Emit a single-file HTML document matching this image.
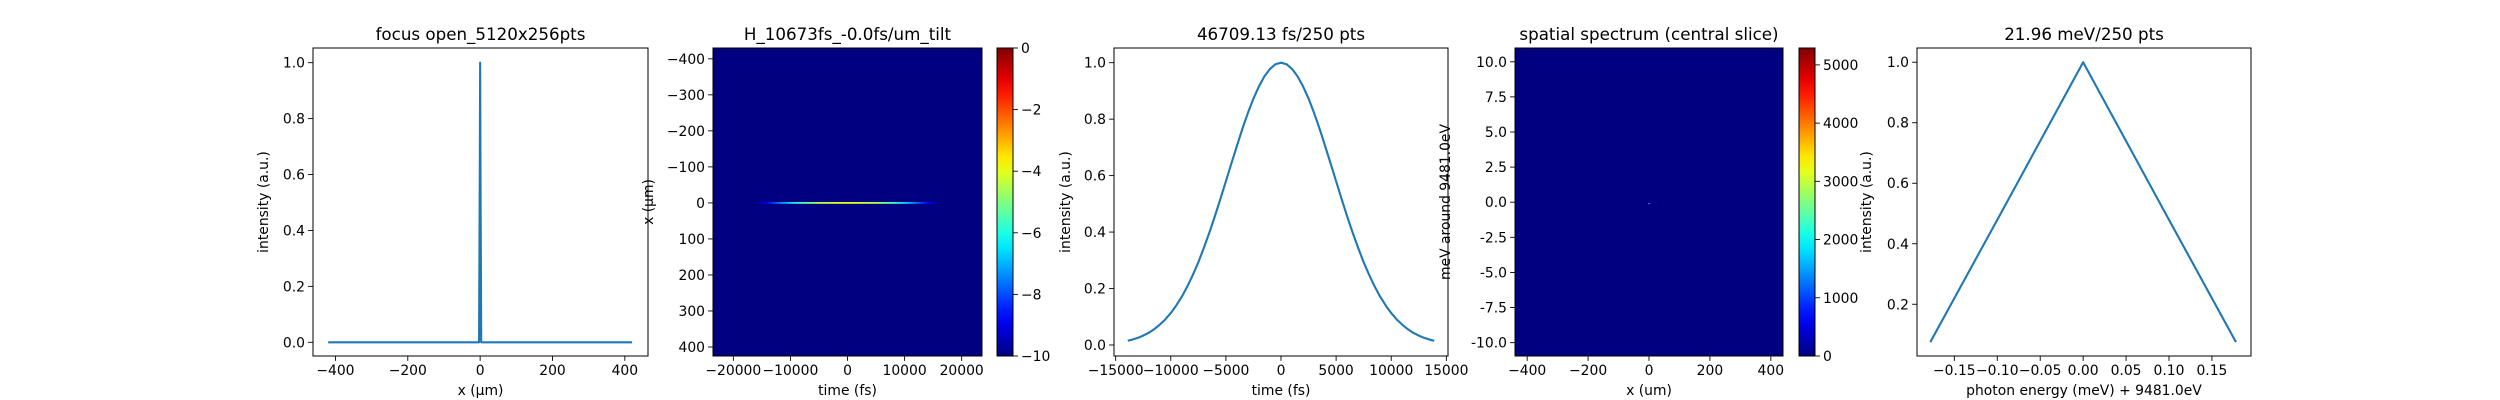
<!DOCTYPE html>
<html><head><meta charset="utf-8">
<style>
html,body{margin:0;padding:0;background:#fff;}
svg{display:block;font-family:"DejaVu Sans","Liberation Sans",sans-serif;}
</style></head>
<body>
<svg id="fig" width="2500" height="400" viewBox="0 0 2500 400" xmlns="http://www.w3.org/2000/svg">
<rect width="2500" height="400" fill="#fff"/>
</svg>
<script>
// ---- data ----
const focusX = [-420, -3, -1, 0, 1, 3, 420];
const focusY = [0, 0, 0.6, 1.0, 0.6, 0, 0];
const timeX = [-13900,-13500,-13000,-12500,-12000,-11500,-11000,-10500,-10000,-9500,-9000,-8500,-8000,-7500,-7000,-6500,-6000,-5500,-5000,-4500,-4000,-3500,-3000,-2500,-2000,-1500,-1000,-500,0,500,1000,1500,2000,2500,3000,3500,4000,4500,5000,5500,6000,6500,7000,7500,8000,8500,9000,9500,10000,10500,11000,11500,12000,12500,13000,13500,13900];
const timeY = [0.015,0.0188,0.025,0.0332,0.043,0.056,0.072,0.0904,0.113,0.140,0.171,0.207,0.248,0.293,0.344,0.398,0.456,0.517,0.580,0.643,0.705,0.766,0.822,0.873,0.916,0.952,0.978,0.9946,1.0,0.9946,0.978,0.952,0.916,0.873,0.822,0.766,0.705,0.643,0.580,0.517,0.456,0.398,0.344,0.293,0.248,0.207,0.171,0.140,0.113,0.0904,0.072,0.056,0.043,0.0332,0.025,0.0188,0.015];
const specX = [-0.178,-0.095,0,0.095,0.178];
const specY = [0.075,0.505,1.0,0.505,0.075];
const stripeT = [-16000,-14000,-12000,-10000,-8000,-6000,-4000,-2000,0,2000,4000,6000,8000,10000,12000,14000,16000];
const stripeV = [-9.8,-8.8,-7.6,-6.6,-5.6,-4.9,-4.4,-4.1,-4.0,-4.1,-4.4,-4.9,-5.6,-6.6,-7.6,-8.8,-9.8];
const p1XTicks = [-400,-200,0,200,400];
const p1YTicks = [0,0.2,0.4,0.6,0.8,1.0];
const p2XTicks = [-20000,-10000,0,10000,20000];
const p2YTicks = [-400,-300,-200,-100,0,100,200,300,400];
const cb2Ticks = [0,-2,-4,-6,-8,-10];
const p3XTicks = [-15000,-10000,-5000,0,5000,10000,15000];
const p4YTicks = [10,7.5,5,2.5,0,-2.5,-5,-7.5,-10];
const p4XTicks = [-400,-200,0,200,400];
const cb4Ticks = [0,1000,2000,3000,4000,5000];
const p5XTicks = [-0.15,-0.10,-0.05,0,0.05,0.10,0.15];
const p5YTicks = [0.2,0.4,0.6,0.8,1.0];

const NS="http://www.w3.org/2000/svg";
const fig=document.getElementById('fig');
function el(tag,attrs,parent,text){const e=document.createElementNS(NS,tag);for(const k in attrs)e.setAttribute(k,attrs[k]);if(text!==undefined)e.textContent=text;(parent||fig).appendChild(e);return e;}
function fmt(v){return String(v).replace('-','\u2212');}
function jet(t){t=Math.max(0,Math.min(1,t));
 const r=Math.max(0,Math.min(1,1.5-Math.abs(4*t-3))),g=Math.max(0,Math.min(1,1.5-Math.abs(4*t-2))),b=Math.max(0,Math.min(1,1.5-Math.abs(4*t-1)));
 return `rgb(${Math.round(r*255)},${Math.round(g*255)},${Math.round(b*255)})`;}
const TOP=48,BOT=356;

function axes(name,L,R,xmin,xmax,ymin,ymax,xt,yt,xfmt,yfmt,title,xlabel,ylabel,ylabX){
 const g=el('g',{},fig);
 
 
 const sx=v=>L+(v-xmin)/(xmax-xmin)*(R-L);
 const sy=v=>BOT-(v-ymin)/(ymax-ymin)*(BOT-TOP);
 const ax={g,sx,sy,L,R};
 ax.frame=()=>{const f=el('rect',{x:L,y:TOP,width:R-L,height:BOT-TOP,fill:'none',stroke:'#000','stroke-width':1},g);
  
  xt.forEach(v=>{const x=sx(v);el('line',{x1:x,x2:x,y1:BOT,y2:BOT+4.9,stroke:'#000','stroke-width':0.9},g);
   const t=el('text',{x:x,y:BOT+19,'font-size':13.9,'text-anchor':'middle',fill:'#000'},g,xfmt(v));
   });
  yt.forEach(v=>{const y=sy(v);el('line',{x1:L-4.9,x2:L,y1:y,y2:y,stroke:'#000','stroke-width':0.9},g);
   const t=el('text',{x:L-8,y:y+5,'font-size':13.9,'text-anchor':'end',fill:'#000'},g,yfmt(v));
   });
  const tt=el('text',{x:(L+R)/2,y:40,'font-size':16.7,'text-anchor':'middle',fill:'#000'},g,title);
  
  const xl=el('text',{x:(L+R)/2,y:395,'font-size':13.9,'text-anchor':'middle',fill:'#000'},g,xlabel);
  
  const yl=el('text',{x:0,y:0,'font-size':13.9,'text-anchor':'middle',fill:'#000',transform:`translate(${ylabX},${(TOP+BOT)/2}) rotate(-90)`},g,ylabel);
  
 };
 ax.line=(xs,ys,lname)=>{const d=xs.map((v,i)=>(i?'L':'M')+sx(v).toFixed(2)+','+sy(ys[i]).toFixed(2)).join('');
  const p=el('path',{d:d,fill:'none',stroke:'#1f77b4','stroke-width':2.1,'stroke-linejoin':'round'},g);
  };
 return ax;
}
function colorbar(name,L,R,vmin,vmax,ticks,tf){
 const g=el('g',{},fig);
 
 
 const id=name+'-grad';
 const defs=el('defs',{},g);const lg=el('linearGradient',{id:id,x1:0,y1:1,x2:0,y2:0},defs);
 for(let i=0;i<=20;i++)el('stop',{offset:i/20,'stop-color':jet(i/20)},lg);
 el('rect',{x:L,y:TOP,width:R-L,height:BOT-TOP,fill:`url(#${id})`,stroke:'#000','stroke-width':1},g);
 const sy=v=>BOT-(v-vmin)/(vmax-vmin)*(BOT-TOP);
 ticks.forEach(v=>{const y=sy(v);el('line',{x1:R,x2:R+4.9,y1:y,y2:y,stroke:'#000','stroke-width':0.9},g);
  const t=el('text',{x:R+8,y:y+5,'font-size':13.9,fill:'#000'},g,tf(v));
  });
}
const fx1=v=>v.toFixed(1), fint=v=>fmt(v), fx2=v=>fmt(v.toFixed(2));

// Panel 1
const a1=axes('focus-panel',313,648,-462,464,-0.049,1.0525,p1XTicks,p1YTicks,fint,fx1,'focus open_5120x256pts','x (\u03bcm)','intensity (a.u.)',268);
a1.line(focusX,focusY,'focus-line');a1.frame();

// Panel 2 heatmap
const a2=axes('tilt-heatmap-panel',713,982,-23560,23560,425,-430,p2XTicks,p2YTicks,fint,fint,'H_10673fs_-0.0fs/um_tilt','time (fs)','x (\u03bcm)',653);
const bg2=el('rect',{x:713,y:TOP,width:269,height:BOT-TOP,fill:jet(0)},a2.g);

{const defs=el('defs',{},a2.g);const lg=el('linearGradient',{id:'stripeg',gradientUnits:'userSpaceOnUse',x1:a2.sx(stripeT[0]),x2:a2.sx(stripeT[stripeT.length-1]),y1:0,y2:0},defs);
 const n=stripeT.length;stripeT.forEach((t,i)=>el('stop',{offset:i/(n-1),'stop-color':jet((stripeV[i]+10)/10)},lg));
 const s=el('rect',{x:a2.sx(stripeT[0]),y:a2.sy(0)-0.9,width:a2.sx(stripeT[n-1])-a2.sx(stripeT[0]),height:1.8,fill:'url(#stripeg)'},a2.g);
 }
a2.frame();
colorbar('tilt-colorbar',997,1013,-10,0,cb2Ticks,fint);

// Panel 3
const a3=axes('time-profile-panel',1114,1448,-15150,15150,-0.039,1.052,p3XTicks,p1YTicks,fint,fx1,'46709.13 fs/250 pts','time (fs)','intensity (a.u.)',1070);
a3.line(timeX,timeY,'time-profile-line');a3.frame();

// Panel 4 heatmap
const a4=axes('spatial-spectrum-panel',1515,1783,-440,440,-10.95,10.98,p4XTicks,p4YTicks,fint,fx1,'spatial spectrum (central slice)','x (um)','meV around 9481.0eV',1450);
const bg4=el('rect',{x:1515,y:TOP,width:268,height:BOT-TOP,fill:jet(0)},a4.g);

const dot=el('rect',{x:a4.sx(0)-1,y:a4.sy(-0.1)-0.6,width:2,height:1.2,fill:jet(0.25)},a4.g);

a4.frame();
colorbar('spectrum-colorbar',1799,1815,0,5290,cb4Ticks,fint);

// Panel 5
const a5=axes('energy-spectrum-panel',1917,2251,-0.1935,0.1955,0.029,1.047,p5XTicks,p5YTicks,fx2,fx1,'21.96 meV/250 pts','photon energy (meV) + 9481.0eV','intensity (a.u.)',1871);
a5.line(specX,specY,'energy-spectrum-line');a5.frame();
</script>
</body></html>
